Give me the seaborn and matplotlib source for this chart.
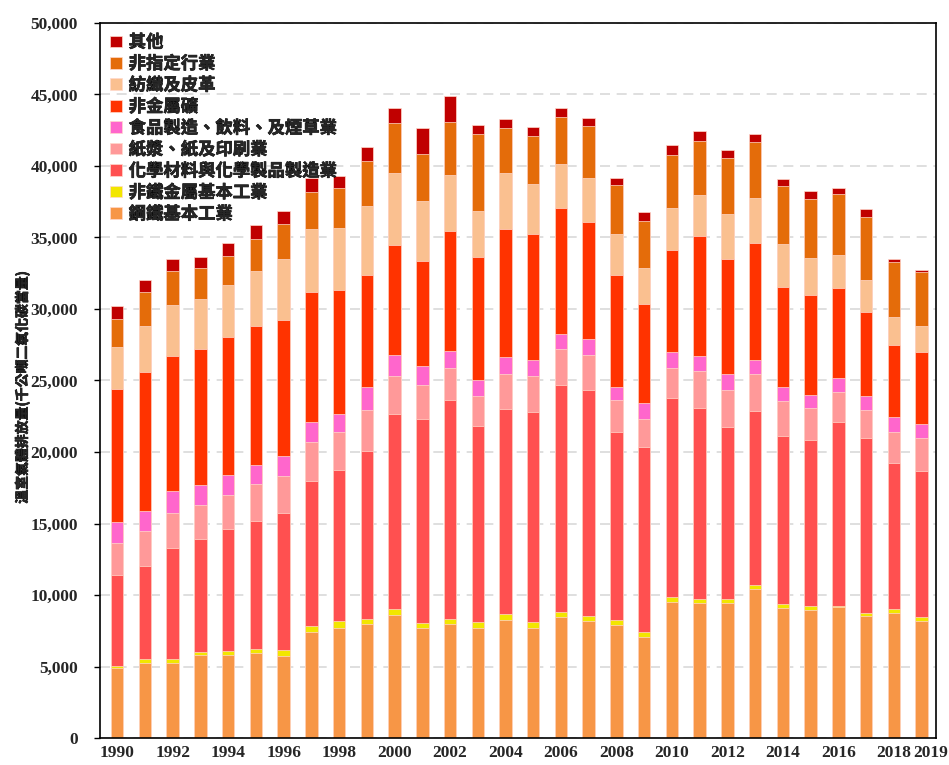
import numpy as np
import pandas as pd
import matplotlib
matplotlib.use("Agg")
import matplotlib.pyplot as plt
import matplotlib.patheffects as pe
import matplotlib.transforms as mtrans
import seaborn as sns

# Greenhouse gas emissions by industry, 1990-2019 (kt CO2e)
years = [str(y) for y in range(1990, 2020)]

steel = [4910, 5230, 5230, 5810, 5810, 5960, 5760, 7440, 7700, 7990,
         8630, 7680, 7990, 7700, 8260, 7700, 8430, 8170, 7910, 7090,
         9480, 9440, 9440, 10440, 9080, 8920, 9140, 8560, 8770, 8170]
nonferrous = [145, 260, 260, 200, 290, 260, 380, 380, 470, 350,
              380, 350, 350, 410, 440, 410, 380, 380, 350, 320,
              350, 300, 300, 270, 300, 300, 90, 210, 240, 300]
chemical = [6340, 6570, 7820, 7940, 8490, 8950, 9560, 10120, 10580, 11740,
            13630, 14270, 15320, 13690, 14330, 14680, 15900, 15810, 13170, 12910,
            13920, 13340, 12010, 12130, 11770, 11650, 12860, 12190, 10190, 10230]
paper = [2240, 2440, 2440, 2350, 2410, 2620, 2620, 2760, 2620, 2850,
         2700, 2380, 2240, 2150, 2410, 2500, 2470, 2440, 2180, 2010,
         2150, 2570, 2600, 2600, 2420, 2180, 2120, 2000, 2210, 2300]
food = [1480, 1400, 1510, 1400, 1400, 1310, 1370, 1370, 1310, 1630,
        1420, 1340, 1130, 1050, 1190, 1130, 1050, 1080, 960, 1080,
        1100, 1030, 1090, 970, 970, 970, 940, 970, 1060, 970]
mineral = [9270, 9710, 9420, 9510, 9620, 9680, 9560, 9130, 8630, 7790,
           7730, 7360, 8430, 8630, 8950, 8810, 8810, 8230, 7820, 6950,
           7150, 8440, 8080, 8200, 7020, 6930, 6320, 5870, 4990, 5050]
textile = [2940, 3230, 3580, 3460, 3630, 3900, 4220, 4390, 4360, 4830,
           5000, 4190, 3900, 3230, 3930, 3490, 3110, 3050, 2850, 2500,
           2940, 2870, 3090, 3120, 3000, 2600, 2330, 2240, 1970, 1820]
unspecified = [1950, 2330, 2410, 2180, 2060, 2210, 2470, 2620, 2760, 3140,
               3490, 3290, 3720, 5350, 3140, 3400, 3290, 3660, 3400, 3310,
               3690, 3780, 3930, 3930, 4020, 4170, 4240, 4390, 3840, 3750]
other = [900, 840, 810, 790, 900, 990, 900, 930, 870, 1020,
         1050, 1770, 1800, 670, 610, 580, 610, 520, 520, 580,
         700, 700, 600, 550, 510, 540, 420, 550, 240, 150]

# bottom to top
series_names = ["鋼鐵基本工業", "非鐵金屬基本工業", "化學材料與化學製品製造業",
                "紙漿、紙及印刷業", "食品製造、飲料、及煙草業", "非金屬礦",
                "紡織及皮革", "非指定行業", "其他"]
series_values = [steel, nonferrous, chemical, paper, food, mineral,
                 textile, unspecified, other]
colors = ["#f79646", "#f2e600", "#ff5050", "#ff9999", "#ff66cc",
          "#ff3300", "#fac090", "#e46c0a", "#c00000"]

df = pd.DataFrame(dict(zip(series_names, series_values)), index=years)
cum = df.cumsum(axis=1)

sns.set_style("white")
cjk = ["Noto Sans CJK TC", "DejaVu Sans"]
plt.rcParams["font.family"] = cjk

fig = plt.figure(figsize=(9.49, 7.65), dpi=100)
ax = fig.add_axes([100 / 949, 1 - 738 / 765, 836 / 949, 715 / 765])

# draw cumulative totals from the top layer down so lower layers cover them
for name, color in zip(series_names[::-1], colors[::-1]):
    sns.barplot(x=years, y=cum[name].values, color=color, width=0.45,
                edgecolor="#ffd9cc", linewidth=0.5, label=name, ax=ax,
                saturation=1)

ax.set_ylim(0, 50000)
ax.set_xlim(-0.62, 29.52)
ax.set_yticks(np.arange(0, 50001, 5000))
ax.set_yticklabels([f"{v:,}" for v in range(0, 50001, 5000)],
                   fontfamily="Liberation Serif", fontweight="bold", fontsize=12.5)
ax.yaxis.grid(True, linestyle=(0, (6, 4)), color="#d9d9d9", linewidth=1.2)
ax.set_axisbelow(True)

label_pos = [i for i, y in enumerate(years) if int(y) % 2 == 0 or y == "2019"]
ax.set_xticks(label_pos)
ax.set_xticklabels([years[i] for i in label_pos], fontfamily="Liberation Serif",
                   fontweight="bold", fontsize=12.5)
ax.tick_params(axis="x", which="major", length=0, pad=5)
ax.set_xticks(np.arange(0.5, 29.6, 1), minor=True)
ax.tick_params(axis="x", which="minor", length=5, width=1, direction="out",
               color="black")
ax.tick_params(axis="y", length=4, width=1, direction="out", color="black",
               left=True, pad=12)

# nudge the last year label right, as in the original
last = ax.get_xticklabels()[-1]
last.set_transform(last.get_transform() +
                   mtrans.ScaledTranslation(9 / 100, 0, fig.dpi_scale_trans))

for sp in ax.spines.values():
    sp.set_visible(True)
    sp.set_color("black")
    sp.set_linewidth(1.2)

bold_fx = [pe.withStroke(linewidth=0.45, foreground="black")]

ax.set_xlabel("")
ylab = ax.set_ylabel("溫室氣體排放量(千公噸二氧化碳當量)", fontsize=10,
                     fontweight="bold")
ax.yaxis.set_label_coords(-0.084, 0.49)
ylab.set_path_effects(bold_fx)

leg = ax.legend(loc="upper left", bbox_to_anchor=(0.0, 1.0), frameon=False,
                prop={"weight": "bold", "size": 12.5, "family": cjk},
                handlelength=0.65, handleheight=0.65, handletextpad=0.4,
                labelspacing=0.2, borderaxespad=0.2)
for t in leg.get_texts():
    t.set_path_effects(bold_fx)

fig.savefig("out.png", dpi=100)
